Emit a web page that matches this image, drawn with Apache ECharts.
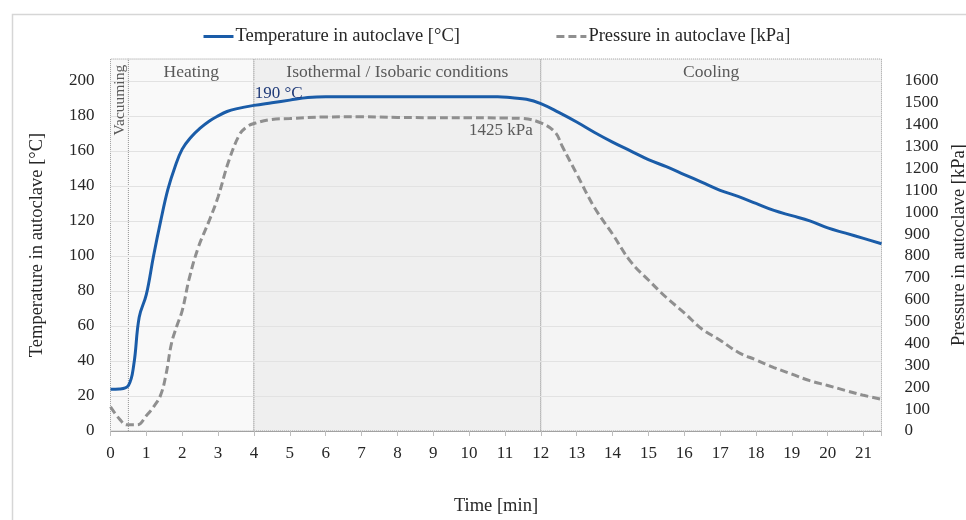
<!DOCTYPE html>
<html>
<head>
<meta charset="utf-8">
<script src="https://cdn.jsdelivr.net/npm/echarts@6/dist/echarts.min.js"></script>
<style>html,body{margin:0;padding:0;background:#fff;}#c{width:966px;height:520px;}</style>
</head>
<body>
<div id="c"></div>
<script>
// ---- data ----
var tempTime = [0,0.25,0.5,0.65,0.8,1.0,1.2,1.4,1.6,1.8,2.0,2.25,2.5,2.75,3.0,3.25,3.5,4.0,4.5,5.0,5.5,6.0,7,8,9,10,10.8,11.2,11.6,12.0,12.5,13,13.5,14,14.5,15,15.5,16,16.5,17,17.5,18,18.5,19,19.5,20,20.5,21,21.5];
var tempValues = [23.8,24,26,38,65,78,100,120,138,151,161,168,173,177,180,182.5,184,186,187.5,189,190.5,191,191,191,191,191,191,190.3,189.5,187,182,176.5,170.5,165,160,155,151,146.5,142,137.5,134,130,126,123,120,116,113,110,107];
var presTime = [0,0.25,0.45,0.75,1.0,1.2,1.4,1.55,1.7,1.85,2.0,2.2,2.45,2.75,3.0,3.3,3.6,3.8,4.0,4.5,5.0,6.0,7.0,8.0,9.0,10,11,11.5,12.0,12.4,12.6,13.0,13.5,14.0,14.5,15.0,15.5,16.0,16.5,17.0,17.5,18.0,18.5,19.0,19.5,20.0,20.5,21.0,21.5];
var presValues = [111,55,28,28,70,110,165,260,400,480,550,700,840,960,1070,1235,1355,1390,1405,1424,1428,1435,1436,1433,1432,1432,1430,1428,1408,1365,1300,1175,1020,900,775,690,610,540,465,415,360,325,290,260,230,208,185,163,145];
var phaseNames = ['Vacuuming','Heating','Isothermal / Isobaric conditions','Cooling'];
var phaseBounds = [0,0.5,4,12,21.5];
var tempLabel = '190 °C';
var presLabel = '1425 kPa';
var seriesNames = ['Temperature in autoclave [°C]','Pressure in autoclave [kPa]'];

var FONT = '"Liberation Serif", "DejaVu Serif", serif';
var tempData = tempTime.map(function(t,i){return [t,tempValues[i]];});
var presData = presTime.map(function(t,i){return [t,presValues[i]];});
var phaseFill = ['#f8f8f8','#f9f9f9','#efefef','#f4f4f4'];
var areas = [];
for (var i=0;i<4;i++){
  var lab = i===0 ? {show:false} : {show:true, position:'insideTop', distance:5, color:'#595959', fontFamily:FONT, fontSize:17.5};
  areas.push([{xAxis:phaseBounds[i], itemStyle:{color:phaseFill[i], borderColor:'#9a9a9a', borderWidth:1, borderType:'dotted'}, label:lab, name:phaseNames[i]},{xAxis:phaseBounds[i+1]}]);
}

var chart = echarts.init(document.getElementById('c'));
chart.setOption({
  animation:false,
  backgroundColor:'#fff',
  textStyle:{fontFamily:FONT},
  graphic:[{type:'rect', shape:{x:12.5,y:14.5,width:1000,height:600}, style:{fill:'none', stroke:'#d6d6d6', lineWidth:1.5}, silent:true, z:-10}],
  legend:{
    left:197, top:22, itemGap:95, itemWidth:30, itemHeight:14,
    itemStyle:{opacity:0},
    lineStyle:{width:3},
    textStyle:{fontFamily:FONT, fontSize:18.5, color:'#262626', padding:[0,0,0,-3]},
    data:[seriesNames[0], seriesNames[1]]
  },
  grid:{left:110.5, right:84.5, top:59, bottom:89, outerBoundsMode:'none', containLabel:false},
  xAxis:{
    type:'value', min:0, max:21.5, interval:1,
    name:'Time [min]', nameLocation:'middle', nameGap:66,
    nameTextStyle:{fontFamily:FONT, fontSize:18.5, color:'#262626'},
    axisLine:{show:true, lineStyle:{color:'#9a9a9a', type:'dotted', width:1}},
    axisTick:{show:true, length:5, lineStyle:{color:'#bdbdbd'}},
    axisLabel:{fontFamily:FONT, fontSize:17, color:'#262626', margin:14, formatter:function(v){return Math.abs(v-Math.round(v))<1e-6 ? String(Math.round(v)) : '';}},
    splitLine:{show:false}
  },
  yAxis:[{
    type:'value', min:0, max:212.5, interval:20,
    name:'Temperature in autoclave [°C]', nameLocation:'middle', nameGap:64,
    nameTextStyle:{fontFamily:FONT, fontSize:18.5, color:'#262626'},
    axisLine:{show:false}, axisTick:{show:false},
    axisLabel:{fontFamily:FONT, fontSize:17, color:'#262626', margin:16, formatter:function(v){return v<=200.001 ? String(v) : '';}},
    splitLine:{show:true, showMaxLine:false, lineStyle:{color:'#e2e2e2', width:1}}
  },{
    type:'value', min:0, max:1700, interval:100,
    name:'Pressure in autoclave [kPa]', nameLocation:'middle', nameGap:64,
    nameTextStyle:{fontFamily:FONT, fontSize:18.5, color:'#262626'},
    axisLine:{show:false}, axisTick:{show:false},
    axisLabel:{fontFamily:FONT, fontSize:17, color:'#262626', margin:23, formatter:function(v){return v<=1600.001 ? String(v) : '';}},
    splitLine:{show:false}
  }],
  series:[{
    name:seriesNames[0], type:'line', yAxisIndex:0, data:tempData, smooth:0.4,
    symbol:'none', lineStyle:{color:'#1a5ca8', width:3}, itemStyle:{color:'#1a5ca8'}, z:4,
    markArea:{silent:true, z:-1, data:areas},
    markPoint:{symbol:'circle', symbolSize:0, silent:true, data:[
      {coord:[4.02,193], label:{show:true, position:'right', distance:0, formatter:tempLabel, color:'#1f3a78', fontFamily:FONT, fontSize:17}},
      {coord:[0.25,189], label:{show:true, position:'inside', rotate:90, formatter:phaseNames[0], color:'#595959', fontFamily:FONT, fontSize:15.5}}
    ]}
  },{
    name:seriesNames[1], type:'line', yAxisIndex:1, data:presData, smooth:0.4,
    symbol:'none', lineStyle:{color:'#8f8f8f', width:3, type:[8,4]}, itemStyle:{color:'#8f8f8f'}, z:3,
    markPoint:{symbol:'circle', symbolSize:0, silent:true, data:[
      {coord:[10.0,1371], label:{show:true, position:'right', distance:0, formatter:presLabel, color:'#595959', fontFamily:FONT, fontSize:17}}
    ]}
  }]
});
</script>
</body>
</html>
